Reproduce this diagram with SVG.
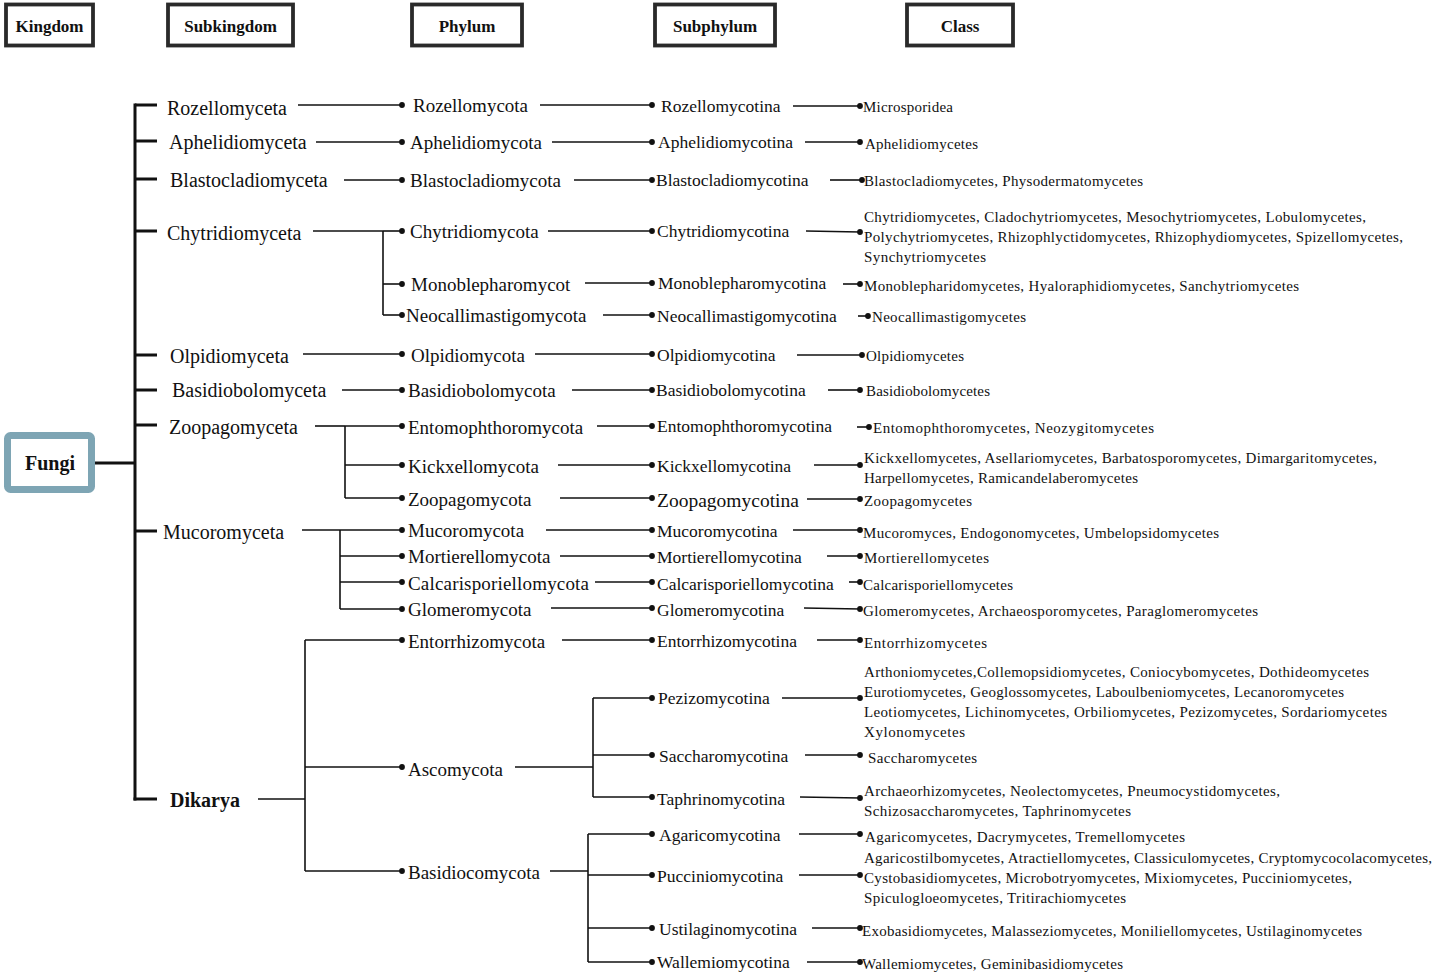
<svg xmlns="http://www.w3.org/2000/svg" width="1434" height="974" viewBox="0 0 1434 974">
<defs>
<marker id="dot" markerWidth="8" markerHeight="8" refX="4" refY="4" markerUnits="userSpaceOnUse"><circle cx="4" cy="4" r="2.9" fill="#111"/></marker>
<style>
text{font-family:"Liberation Serif","Times New Roman",serif;fill:#111}
.hd rect{fill:#fff;stroke:#2a2a2a;stroke-width:3.8}
.hd text{font-weight:bold;font-size:17px;text-anchor:middle}
.sk{font-size:20px}
.ph{font-size:19px}
.sp{font-size:17.5px}
.cl{font-size:15px}
.b{font-weight:bold}
#connectors line,#connectors path{stroke:#111;fill:none;stroke-width:1.6}
#connectors .thick{stroke-width:3}
#connectors .d{marker-end:url(#dot)}
</style>
</defs>
<rect width="1434" height="974" fill="#fff"/>

<g id="header" class="hd">
<g id="h-kingdom"><rect x="6" y="4.5" width="87" height="41"/><text x="49.5" y="32">Kingdom</text></g>
<g id="h-subkingdom"><rect x="168" y="4.5" width="125" height="41"/><text x="230.5" y="32">Subkingdom</text></g>
<g id="h-phylum"><rect x="412" y="4.5" width="110" height="41"/><text x="467" y="32">Phylum</text></g>
<g id="h-subphylum"><rect x="655" y="4.5" width="120" height="41"/><text x="715" y="32">Subphylum</text></g>
<g id="h-class"><rect x="907" y="4.5" width="106" height="41"/><text x="960" y="32">Class</text></g>
</g>

<g id="connectors">
<!-- kingdom spine -->
<line class="thick" x1="95" y1="463" x2="135" y2="463"/>
<line class="thick" x1="135" y1="103.5" x2="135" y2="800.5"/>
<line class="thick" x1="135" y1="105" x2="157" y2="105"/>
<line class="thick" x1="135" y1="141" x2="157" y2="141"/>
<line class="thick" x1="135" y1="179" x2="157" y2="179"/>
<line class="thick" x1="135" y1="231" x2="157" y2="231"/>
<line class="thick" x1="135" y1="355" x2="157" y2="355"/>
<line class="thick" x1="135" y1="390" x2="157" y2="390"/>
<line class="thick" x1="135" y1="425" x2="157" y2="425"/>
<line class="thick" x1="135" y1="531" x2="157" y2="531"/>
<line class="thick" x1="133.5" y1="799" x2="157" y2="799"/>
<!-- subkingdom to phylum -->
<line class="d" x1="298" y1="105" x2="402" y2="105"/>
<line class="d" x1="316" y1="142" x2="402" y2="142"/>
<line class="d" x1="344" y1="180" x2="402" y2="180"/>
<line x1="313" y1="231" x2="383" y2="231"/>
<line x1="383" y1="231" x2="383" y2="315"/>
<line class="d" x1="383" y1="231" x2="402" y2="231"/>
<line class="d" x1="383" y1="284" x2="402" y2="284"/>
<line class="d" x1="383" y1="315" x2="402" y2="315"/>
<line class="d" x1="303" y1="354" x2="402" y2="354"/>
<line class="d" x1="342" y1="390" x2="402" y2="390"/>
<line x1="315" y1="426" x2="345" y2="426"/>
<line x1="345" y1="426" x2="345" y2="498"/>
<line class="d" x1="345" y1="426" x2="402" y2="426"/>
<line class="d" x1="345" y1="465" x2="402" y2="465"/>
<line class="d" x1="345" y1="498" x2="402" y2="498"/>
<line x1="302" y1="530" x2="340" y2="530"/>
<line x1="340" y1="530" x2="340" y2="609"/>
<line class="d" x1="340" y1="530" x2="402" y2="530"/>
<line class="d" x1="340" y1="556" x2="402" y2="556"/>
<line class="d" x1="340" y1="582" x2="402" y2="582"/>
<line class="d" x1="340" y1="609" x2="402" y2="609"/>
<line x1="258" y1="799" x2="305" y2="799"/>
<line x1="305" y1="640" x2="305" y2="871"/>
<line class="d" x1="305" y1="640" x2="402" y2="640"/>
<line class="d" x1="305" y1="767" x2="402" y2="767"/>
<line class="d" x1="305" y1="871" x2="402" y2="871"/>
<!-- phylum to subphylum -->
<line class="d" x1="540" y1="105" x2="652" y2="105"/>
<line class="d" x1="552" y1="142" x2="652" y2="142"/>
<line class="d" x1="574" y1="180" x2="652" y2="180"/>
<line class="d" x1="548" y1="231" x2="652" y2="231"/>
<line class="d" x1="585" y1="283" x2="652" y2="283"/>
<line class="d" x1="603" y1="315" x2="652" y2="315"/>
<line class="d" x1="535" y1="354" x2="652" y2="354"/>
<line class="d" x1="572" y1="390" x2="652" y2="390"/>
<line class="d" x1="597" y1="426" x2="652" y2="426"/>
<line class="d" x1="558" y1="465" x2="652" y2="465"/>
<line class="d" x1="560" y1="498" x2="652" y2="498"/>
<line class="d" x1="546" y1="530" x2="652" y2="530"/>
<line class="d" x1="560" y1="556" x2="652" y2="556"/>
<line class="d" x1="595" y1="582" x2="652" y2="582"/>
<line class="d" x1="551" y1="608" x2="652" y2="608"/>
<line class="d" x1="562" y1="640" x2="652" y2="640"/>
<line x1="515" y1="767" x2="593" y2="767"/>
<line x1="593" y1="698" x2="593" y2="797"/>
<line class="d" x1="593" y1="698" x2="652" y2="698"/>
<line class="d" x1="593" y1="755" x2="652" y2="755"/>
<line class="d" x1="593" y1="797" x2="652" y2="797"/>
<line x1="550" y1="871" x2="588" y2="871"/>
<line x1="588" y1="834" x2="588" y2="962"/>
<line class="d" x1="588" y1="834" x2="652" y2="834"/>
<line class="d" x1="588" y1="875" x2="652" y2="875"/>
<line class="d" x1="588" y1="928" x2="652" y2="928"/>
<line class="d" x1="588" y1="962" x2="652" y2="962"/>
<!-- subphylum to class -->
<line class="d" x1="793" y1="106" x2="860" y2="106"/>
<line class="d" x1="805" y1="142" x2="860" y2="142"/>
<line class="d" x1="830" y1="180" x2="862" y2="180"/>
<line class="d" x1="806" y1="231" x2="860" y2="232"/>
<line class="d" x1="843" y1="284" x2="860" y2="284"/>
<line class="d" x1="858" y1="316" x2="868" y2="316"/>
<line class="d" x1="797" y1="355" x2="862" y2="355"/>
<line class="d" x1="828" y1="390" x2="860" y2="390"/>
<line class="d" x1="857" y1="427" x2="869" y2="427"/>
<line class="d" x1="814" y1="465" x2="860" y2="465"/>
<line class="d" x1="807" y1="499" x2="860" y2="499"/>
<line class="d" x1="793" y1="530" x2="860" y2="530"/>
<line class="d" x1="827" y1="556" x2="860" y2="556"/>
<line class="d" x1="849" y1="582" x2="860" y2="582"/>
<line class="d" x1="804" y1="608" x2="860" y2="609"/>
<line class="d" x1="817" y1="640" x2="860" y2="640"/>
<line class="d" x1="782" y1="698" x2="860" y2="698"/>
<line class="d" x1="805" y1="755" x2="860" y2="755"/>
<line class="d" x1="800" y1="797" x2="860" y2="798"/>
<line class="d" x1="799" y1="834" x2="860" y2="834"/>
<line class="d" x1="799" y1="875" x2="860" y2="875"/>
<line class="d" x1="812" y1="928" x2="860" y2="928"/>
<line class="d" x1="807" y1="962" x2="860" y2="962"/>
</g>

<g id="fungi"><rect x="7.5" y="435.5" width="84" height="54" rx="3" fill="#fff" stroke="#7ea5b4" stroke-width="7"/><text x="50" y="470" class="b" font-size="20" text-anchor="middle">Fungi</text></g>

<g id="subkingdoms" class="sk">
<g id="sk-rozellomyceta"><text x="167" y="115">Rozellomyceta</text></g>
<g id="sk-aphelidiomyceta"><text x="169" y="149">Aphelidiomyceta</text></g>
<g id="sk-blastocladiomyceta"><text x="170" y="187">Blastocladiomyceta</text></g>
<g id="sk-chytridiomyceta"><text x="167" y="240">Chytridiomyceta</text></g>
<g id="sk-olpidiomyceta"><text x="170" y="363">Olpidiomyceta</text></g>
<g id="sk-basidiobolomyceta"><text x="172" y="397">Basidiobolomyceta</text></g>
<g id="sk-zoopagomyceta"><text x="169" y="434">Zoopagomyceta</text></g>
<g id="sk-mucoromyceta"><text x="163" y="539">Mucoromyceta</text></g>
<g id="sk-dikarya"><text x="170" y="807" class="b">Dikarya</text></g>
</g>

<g id="phyla" class="ph">
<g id="p-rozellomycota"><text x="413" y="112">Rozellomycota</text></g>
<g id="p-aphelidiomycota"><text x="410" y="149">Aphelidiomycota</text></g>
<g id="p-blastocladiomycota"><text x="410" y="187">Blastocladiomycota</text></g>
<g id="p-chytridiomycota"><text x="410" y="238">Chytridiomycota</text></g>
<g id="p-monoblepharomycot"><text x="411" y="291">Monoblepharomycot</text></g>
<g id="p-neocallimastigomycota"><text x="406" y="322">Neocallimastigomycota</text></g>
<g id="p-olpidiomycota"><text x="411" y="362">Olpidiomycota</text></g>
<g id="p-basidiobolomycota"><text x="408" y="397">Basidiobolomycota</text></g>
<g id="p-entomophthoromycota"><text x="408" y="434">Entomophthoromycota</text></g>
<g id="p-kickxellomycota"><text x="408" y="473">Kickxellomycota</text></g>
<g id="p-zoopagomycota"><text x="408" y="506">Zoopagomycota</text></g>
<g id="p-mucoromycota"><text x="408" y="537">Mucoromycota</text></g>
<g id="p-mortierellomycota"><text x="408" y="563">Mortierellomycota</text></g>
<g id="p-calcarisporiellomycota"><text x="408" y="590" textLength="181">Calcarisporiellomycota</text></g>
<g id="p-glomeromycota"><text x="408" y="616">Glomeromycota</text></g>
<g id="p-entorrhizomycota"><text x="408" y="648">Entorrhizomycota</text></g>
<g id="p-ascomycota"><text x="408" y="776">Ascomycota</text></g>
<g id="p-basidiocomycota"><text x="408" y="879">Basidiocomycota</text></g>
</g>

<g id="subphyla" class="sp">
<g id="s-rozellomycotina"><text x="661" y="112">Rozellomycotina</text></g>
<g id="s-aphelidiomycotina"><text x="658" y="148">Aphelidiomycotina</text></g>
<g id="s-blastocladiomycotina"><text x="656" y="186">Blastocladiomycotina</text></g>
<g id="s-chytridiomycotina"><text x="657" y="237">Chytridiomycotina</text></g>
<g id="s-monoblepharomycotina"><text x="658" y="289">Monoblepharomycotina</text></g>
<g id="s-neocallimastigomycotina"><text x="657" y="322">Neocallimastigomycotina</text></g>
<g id="s-olpidiomycotina"><text x="657" y="361">Olpidiomycotina</text></g>
<g id="s-basidiobolomycotina"><text x="656" y="396">Basidiobolomycotina</text></g>
<g id="s-entomophthoromycotina"><text x="657" y="432">Entomophthoromycotina</text></g>
<g id="s-kickxellomycotina"><text x="657" y="472">Kickxellomycotina</text></g>
<g id="s-zoopagomycotina"><text x="657" y="507" font-size="19.5">Zoopagomycotina</text></g>
<g id="s-mucoromycotina"><text x="657" y="537">Mucoromycotina</text></g>
<g id="s-mortierellomycotina"><text x="657" y="563">Mortierellomycotina</text></g>
<g id="s-calcarisporiellomycotina"><text x="657" y="590">Calcarisporiellomycotina</text></g>
<g id="s-glomeromycotina"><text x="657" y="616">Glomeromycotina</text></g>
<g id="s-entorrhizomycotina"><text x="657" y="647">Entorrhizomycotina</text></g>
<g id="s-pezizomycotina"><text x="658" y="704">Pezizomycotina</text></g>
<g id="s-saccharomycotina"><text x="659" y="762">Saccharomycotina</text></g>
<g id="s-taphrinomycotina"><text x="657" y="805">Taphrinomycotina</text></g>
<g id="s-agaricomycotina"><text x="659" y="841">Agaricomycotina</text></g>
<g id="s-pucciniomycotina"><text x="657" y="882">Pucciniomycotina</text></g>
<g id="s-ustilaginomycotina"><text x="659" y="935">Ustilaginomycotina</text></g>
<g id="s-wallemiomycotina"><text x="657" y="968">Wallemiomycotina</text></g>
</g>

<g id="classes" class="cl">
<g id="c-microsporidea"><text x="863" y="112" textLength="90">Microsporidea</text></g>
<g id="c-aphelidiomycetes"><text x="865" y="149" textLength="113">Aphelidiomycetes</text></g>
<g id="c-blastocladiomycetes"><text x="864" y="186" textLength="279">Blastocladiomycetes, Physodermatomycetes</text></g>
<g id="c-chytridiomycetes">
<text x="864" y="222" textLength="502">Chytridiomycetes, Cladochytriomycetes, Mesochytriomycetes, Lobulomycetes,</text>
<text x="864" y="242" textLength="539">Polychytriomycetes, Rhizophlyctidomycetes, Rhizophydiomycetes, Spizellomycetes,</text>
<text x="864" y="262" textLength="122">Synchytriomycetes</text>
</g>
<g id="c-monoblepharidomycetes"><text x="864" y="291" textLength="435">Monoblepharidomycetes, Hyaloraphidiomycetes, Sanchytriomycetes</text></g>
<g id="c-neocallimastigomycetes"><text x="872" y="322" textLength="154">Neocallimastigomycetes</text></g>
<g id="c-olpidiomycetes"><text x="866" y="361" textLength="98">Olpidiomycetes</text></g>
<g id="c-basidiobolomycetes"><text x="866" y="396" textLength="124">Basidiobolomycetes</text></g>
<g id="c-entomophthoromycetes"><text x="873" y="433" textLength="281">Entomophthoromycetes, Neozygitomycetes</text></g>
<g id="c-kickxellomycetes">
<text x="864" y="463" textLength="513">Kickxellomycetes, Asellariomycetes, Barbatosporomycetes, Dimargaritomycetes,</text>
<text x="864" y="483" textLength="274">Harpellomycetes, Ramicandelaberomycetes</text>
</g>
<g id="c-zoopagomycetes"><text x="864" y="506" textLength="108">Zoopagomycetes</text></g>
<g id="c-mucoromyces"><text x="863" y="538" textLength="356">Mucoromyces, Endogonomycetes, Umbelopsidomycetes</text></g>
<g id="c-mortierellomycetes"><text x="864" y="563" textLength="125">Mortierellomycetes</text></g>
<g id="c-calcarisporiellomycetes"><text x="863" y="590" textLength="150">Calcarisporiellomycetes</text></g>
<g id="c-glomeromycetes"><text x="863" y="616" textLength="395">Glomeromycetes, Archaeosporomycetes, Paraglomeromycetes</text></g>
<g id="c-entorrhizomycetes"><text x="864" y="648" textLength="123">Entorrhizomycetes</text></g>
<g id="c-pezizomycotina-classes">
<text x="864" y="677" textLength="505">Arthoniomycetes,Collemopsidiomycetes, Coniocybomycetes, Dothideomycetes</text>
<text x="864" y="697" textLength="480">Eurotiomycetes, Geoglossomycetes, Laboulbeniomycetes, Lecanoromycetes</text>
<text x="864" y="717" textLength="523">Leotiomycetes, Lichinomycetes, Orbiliomycetes, Pezizomycetes, Sordariomycetes</text>
<text x="864" y="737" textLength="101">Xylonomycetes</text>
</g>
<g id="c-saccharomycetes"><text x="868" y="763" textLength="109">Saccharomycetes</text></g>
<g id="c-taphrinomycotina-classes">
<text x="864" y="796" textLength="416">Archaeorhizomycetes, Neolectomycetes, Pneumocystidomycetes,</text>
<text x="864" y="816" textLength="267">Schizosaccharomycetes, Taphrinomycetes</text>
</g>
<g id="c-agaricomycetes"><text x="865" y="842" textLength="320">Agaricomycetes, Dacrymycetes, Tremellomycetes</text></g>
<g id="c-pucciniomycotina-classes">
<text x="864" y="863" textLength="568">Agaricostilbomycetes, Atractiellomycetes, Classiculomycetes, Cryptomycocolacomycetes,</text>
<text x="864" y="883" textLength="488">Cystobasidiomycetes, Microbotryomycetes, Mixiomycetes, Pucciniomycetes,</text>
<text x="864" y="903" textLength="262">Spiculogloeomycetes, Tritirachiomycetes</text>
</g>
<g id="c-exobasidiomycetes"><text x="862" y="936" textLength="500">Exobasidiomycetes, Malasseziomycetes, Moniliellomycetes, Ustilaginomycetes</text></g>
<g id="c-wallemiomycetes"><text x="862" y="969" textLength="261">Wallemiomycetes, Geminibasidiomycetes</text></g>
</g>
</svg>
